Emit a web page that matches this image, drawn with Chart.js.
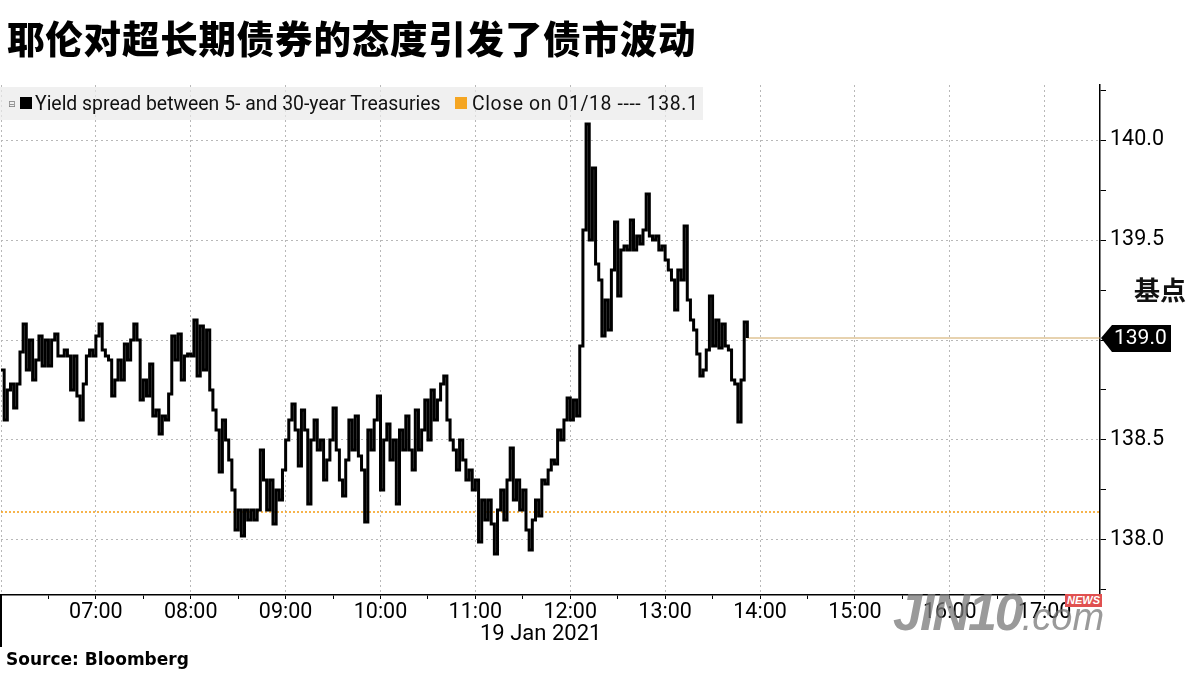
<!DOCTYPE html>
<html>
<head>
<meta charset="utf-8">
<script src="https://cdn.jsdelivr.net/npm/chart.js@4.4.0/dist/chart.umd.min.js"></script>
<style>
  body { margin: 0; background: #fff; }
  #wrap { position: relative; width: 1200px; height: 675px; overflow: hidden; font-family: Roboto, sans-serif; }
  #chart { position: absolute; left: 0; top: 0; }
  .title { position: absolute; left: 7px; top: 9px; font-family: "Noto Sans CJK SC"; font-weight: 900; font-size: 37.5px; color: #000; letter-spacing: 0.8px; }
  .legend { position: absolute; left: 0; top: 87px; width: 703px; height: 33px; background: rgba(234,234,234,0.7); font-size: 19.4px; color: #111; line-height: 33px; white-space: nowrap; }
  .legend .icon { position: absolute; left: 8px; top: 1px; font-size: 9px; color: #777; font-family: "DejaVu Sans"; }
  .legend .sq { position: absolute; top: 10px; width: 12px; height: 12px; }
  .legend .txt { position: absolute; top: 0; }
  .unit { position: absolute; left: 1134px; top: 270px; font-family: "Noto Sans CJK SC"; font-weight: 700; font-size: 26px; color: #111; }
  .date { position: absolute; left: 480px; top: 620px; font-size: 22px; color: #000; }
  .source { position: absolute; left: 6px; top: 649px; font-family: "DejaVu Sans"; font-weight: bold; font-size: 17px; color: #000; }
  .frame { position: absolute; left: 0; top: 595px; width: 2px; height: 52px; background: #000; }
  .wm { position: absolute; left: 893px; top: 582px; color: rgba(120,120,120,0.75); font-family: "Liberation Sans"; font-style: italic; }
  .wm b { font-size: 52px; font-weight: 900; letter-spacing: -2px; }
  .wm span { font-size: 38px; }
  .wm i { position: absolute; left: 172px; top: 12px; font-size: 11px; font-style: italic; font-weight: bold; color: #fff; background: #e05050; padding: 0 2px; line-height: 13px; }
</style>
</head>
<body>
<div id="wrap">
  <canvas id="chart" width="1200" height="675"></canvas>
  <div class="title">耶伦对超长期债券的态度引发了债市波动</div>
  <div class="legend" id="legend"></div>
  <div class="unit">基点</div>
  <div class="date">19 Jan 2021</div>
  <div class="source">Source: Bloomberg</div>
  <div class="frame"></div>
  <div class="wm"><b>JIN10</b><span>.com</span><i>NEWS</i></div>
</div>
<script>
// Yield spread between 5- and 30-year Treasuries, 19 Jan 2021, one reading every 2 minutes from 06:00
const startTime = '06:00';
const stepMinutes = 2;
const spread = [
  138.85, 138.60, 138.75, 138.78, 138.66, 138.78, 138.94, 139.08, 138.85, 139.00,
  138.80, 138.90, 139.02, 138.87, 139.00, 138.87, 139.00, 139.03, 138.92, 138.92,
  138.95, 138.92, 138.75, 138.92, 138.72, 138.60, 138.78, 138.92, 138.95, 138.92,
  139.02, 139.08, 138.95, 138.92, 138.90, 138.72, 138.80, 138.90, 138.80, 138.98,
  138.90, 139.00, 139.08, 139.00, 138.70, 138.80, 138.72, 138.88, 138.62, 138.65,
  138.53, 138.62, 138.60, 138.73, 139.02, 138.90, 139.03, 138.80, 138.92, 138.93,
  138.92, 139.10, 138.82, 139.07, 138.85, 139.05, 138.75, 138.65, 138.55, 138.34,
  138.60, 138.50, 138.40, 138.25, 138.05, 138.15, 138.02, 138.15, 138.10, 138.15,
  138.10, 138.15, 138.45, 138.30, 138.15, 138.30, 138.08, 138.25, 138.20, 138.35,
  138.50, 138.60, 138.68, 138.55, 138.37, 138.65, 138.55, 138.18, 138.50, 138.60,
  138.45, 138.50, 138.30, 138.40, 138.50, 138.66, 138.45, 138.30, 138.22, 138.40,
  138.60, 138.45, 138.62, 138.42, 138.35, 138.09, 138.55, 138.45, 138.60, 138.72,
  138.25, 138.50, 138.58, 138.40, 138.50, 138.18, 138.55, 138.45, 138.62, 138.45,
  138.35, 138.65, 138.45, 138.55, 138.70, 138.50, 138.75, 138.60, 138.70, 138.78,
  138.82, 138.60, 138.50, 138.45, 138.35, 138.50, 138.40, 138.30, 138.35, 138.25,
  138.30, 137.99, 138.20, 138.10, 138.20, 138.08, 137.93, 138.15, 138.25, 138.10,
  138.30, 138.46, 138.20, 138.30, 138.15, 138.25, 138.05, 137.95, 138.10, 138.20,
  138.12, 138.30, 138.28, 138.35, 138.40, 138.38, 138.55, 138.50, 138.60, 138.71,
  138.60, 138.70, 138.62, 138.97, 139.55, 140.08, 139.50, 139.86, 139.38, 139.30,
  139.02, 139.20, 139.05, 139.35, 139.59, 139.22, 139.45, 139.47, 139.45, 139.60,
  139.45, 139.52, 139.48, 139.55, 139.73, 139.52, 139.50, 139.52, 139.45, 139.47,
  139.40, 139.35, 139.30, 139.15, 139.35, 139.30, 139.57, 139.20, 139.10, 139.05,
  138.93, 138.82, 138.85, 138.95, 139.22, 138.97, 139.10, 138.96, 139.08, 138.97,
  138.95, 138.80, 138.78, 138.59, 138.80, 139.09, 139.01
];
const closeDate = '01/18';
const closeValue = 138.14;

const xMin = 360;   // 06:00
const xMax = 1055;  // 17:35
const xTickMinutes = [360, 390, 420, 450, 480, 510, 540, 570, 600, 630, 660, 690, 720, 750,
                      780, 810, 840, 870, 900, 930, 960, 990, 1020, 1050];
const yMin = 137.725;
const yMax = 140.275;
const yTickValues = [137.75, 138.0, 138.25, 138.5, 138.75, 139.0, 139.25, 139.5, 139.75, 140.0, 140.25];

function toMinutes(hhmm) {
  const parts = hhmm.split(':');
  return Number(parts[0]) * 60 + Number(parts[1]);
}

function fmtTime(m) {
  const h = Math.floor(m / 60);
  const mm = m % 60;
  return String(h).padStart(2, '0') + ':' + String(mm).padStart(2, '0');
}

function isHalf(v) {
  return Math.abs(v * 2 - Math.round(v * 2)) < 1e-6;
}

const start = toMinutes(startTime);
const spreadPoints = spread.map((v, i) => ({ x: start + i * stepMinutes, y: v }));
const lastPoint = spreadPoints[spreadPoints.length - 1];

// legend
document.getElementById('legend').innerHTML =
  '<span class="icon">&#8863;</span>' +
  '<span class="sq" style="left:20px;background:#000"></span>' +
  '<span class="txt" style="left:35px">Yield spread between 5- and 30-year Treasuries</span>' +
  '<span class="sq" style="left:455px;background:#f5a623"></span>' +
  '<span class="txt" style="left:472px;letter-spacing:0.6px">Close on ' + closeDate + ' ---- ' + closeValue.toFixed(1) + '</span>';

// black tag with the last value on the right axis
const lastValueTag = {
  id: 'lastValueTag',
  afterDraw(chart) {
    const { ctx, chartArea, scales } = chart;
    const y = scales.y.getPixelForValue(lastPoint.y);
    const x0 = chartArea.right + 1;
    ctx.save();
    ctx.fillStyle = '#000';
    ctx.beginPath();
    ctx.moveTo(x0, y);
    ctx.lineTo(x0 + 11, y - 13);
    ctx.lineTo(x0 + 70, y - 13);
    ctx.lineTo(x0 + 70, y + 14);
    ctx.lineTo(x0 + 11, y + 14);
    ctx.closePath();
    ctx.fill();
    ctx.fillStyle = '#fff';
    ctx.font = '21px Roboto';
    ctx.textBaseline = 'middle';
    ctx.textAlign = 'left';
    ctx.fillText(lastPoint.y.toFixed(1), x0 + 13, y + 1);
    ctx.restore();
  }
};

Chart.defaults.font.family = 'Roboto';
Chart.defaults.color = '#000';

new Chart(document.getElementById('chart'), {
  type: 'line',
  data: {
    datasets: [
      {
        label: 'Yield spread between 5- and 30-year Treasuries',
        data: spreadPoints,
        borderColor: '#000',
        borderWidth: 3,
        stepped: true,
        pointRadius: 0,
        order: 1
      },
      {
        label: 'Close on ' + closeDate,
        data: [{ x: xMin, y: closeValue }, { x: xMax, y: closeValue }],
        borderColor: '#f39c12',
        borderWidth: 1.5,
        borderDash: [2, 2],
        pointRadius: 0,
        order: 2
      },
      {
        label: 'Last',
        data: [{ x: lastPoint.x, y: lastPoint.y }, { x: xMax, y: lastPoint.y }],
        borderColor: '#cfa660',
        borderWidth: 1,
        pointRadius: 0,
        order: 3
      }
    ]
  },
  options: {
    responsive: false,
    animation: false,
    layout: { padding: { top: 85, bottom: 50, left: 0, right: 0 } },
    plugins: {
      legend: { display: false },
      tooltip: { enabled: false }
    },
    scales: {
      x: {
        type: 'linear',
        min: xMin,
        max: xMax,
        afterBuildTicks: scale => { scale.ticks = xTickMinutes.map(v => ({ value: v })); },
        afterFit: scale => { scale.height = 30; },
        ticks: {
          autoSkip: false,
          maxRotation: 0,
          padding: 1,
          font: { size: 21.5 },
          callback: v => (v % 60 === 0 && v > xMin) ? fmtTime(v) : ''
        },
        grid: {
          color: ctx => (ctx.tick && ctx.tick.value % 60 === 0) ? '#b8b8b8' : 'rgba(0,0,0,0)',
          tickColor: '#000',
          tickLength: 4,
          lineWidth: 1
        },
        border: { display: true, color: '#000', width: 1.5, dash: [2, 3] }
      },
      y: {
        type: 'linear',
        position: 'right',
        min: yMin,
        max: yMax,
        afterBuildTicks: scale => { scale.ticks = yTickValues.map(v => ({ value: v })); },
        afterFit: scale => { scale.width = 100; },
        ticks: {
          padding: 4,
          font: { size: 21.5 },
          callback: v => isHalf(v) ? v.toFixed(1) : ''
        },
        grid: {
          color: ctx => (ctx.tick && isHalf(ctx.tick.value)) ? '#b8b8b8' : 'rgba(0,0,0,0)',
          tickColor: '#000',
          tickLength: 6,
          lineWidth: 1
        },
        border: { display: true, color: '#000', width: 1.5, dash: [2, 3] }
      }
    }
  },
  plugins: [lastValueTag]
});
</script>
</body>
</html>
